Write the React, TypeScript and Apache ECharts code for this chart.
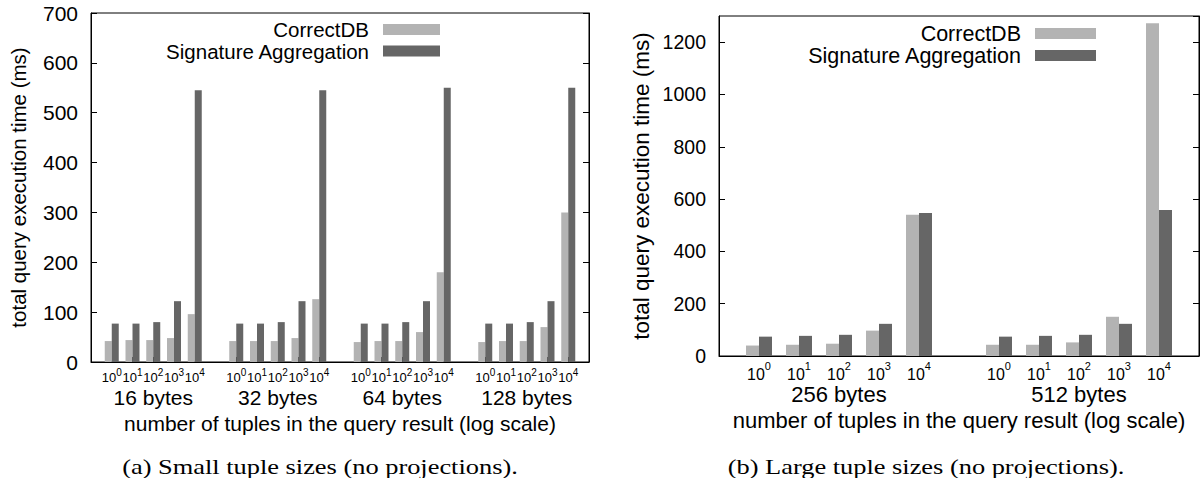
import React, { useEffect, useRef } from 'react';
import * as echarts from 'echarts';

// ---- data ----
const exponents = ['0', '1', '2', '3', '4'];
const smallGroups = ['16 bytes', '32 bytes', '64 bytes', '128 bytes'];
const largeGroups = ['256 bytes', '512 bytes'];

const correct16 = [42, 44, 44, 48, 96];
const correct32 = [42, 42, 42, 48, 126];
const correct64 = [40, 42, 42, 60, 180];
const correct128 = [40, 42, 42, 70, 300];
const sig16 = [77, 77, 80, 122, 545];
const sig32 = [77, 77, 80, 122, 545];
const sig64 = [77, 77, 80, 122, 550];
const sig128 = [77, 77, 80, 122, 550];

const correct256 = [40, 43, 47, 97, 540];
const correct512 = [43, 43, 52, 150, 1272];
const sig256 = [74, 77, 81, 123, 547];
const sig512 = [74, 77, 81, 123, 558];

const seriesNames = ['CorrectDB', 'Signature Aggregation'];
const xTitle = 'number of tuples in the query result (log scale)';
const yTitle = 'total query execution time (ms)';
const captionA = '(a) Small tuple sizes (no projections).';
const captionB = '(b) Large tuple sizes (no projections).';

// ---- helpers ----
function slotValues(groups: number[][]) {
  const out: (number | string)[] = ['-'];
  groups.forEach((g) => {
    out.push(...g, '-');
  });
  return out;
}
function slotCats(groups: string[]) {
  const out: string[] = ['gap0'];
  groups.forEach((g, gi) => {
    exponents.forEach((e) => out.push(g + '|' + e));
    out.push('gap' + (gi + 1));
  });
  return out;
}

const SANS = 'Liberation Sans';
const SERIF = 'Liberation Serif';
const LIGHT = '#b3b3b3';
const DARK = '#666666';

export default function App() {
  const ref = useRef<HTMLDivElement>(null);
  useEffect(() => {
    if (!ref.current) return;
    const chart = echarts.init(ref.current, undefined, { renderer: 'svg' });
    const smallCats = slotCats(smallGroups);
    const largeCats = slotCats(largeGroups);

    const tickAxis = (gridIndex: number, data: string[], fs: number, sfs: number, lh: number, slh: number, margin: number) => ({
      type: 'category',
      gridIndex,
      data,
      boundaryGap: false,
      axisLine: { show: true, lineStyle: { color: '#000', width: 1 } },
      axisTick: {
        show: true,
        inside: true,
        length: 5,
        interval: (_i: number, v: string) => !String(v).startsWith('gap'),
        lineStyle: { color: '#000' },
      },
      splitLine: { show: false },
      axisLabel: {
        interval: 0,
        margin,
        color: '#000',
        formatter: (v: string) => {
          if (String(v).startsWith('gap')) return '';
          const e = String(v).split('|')[1];
          return '{b|10}{s|' + e + '}';
        },
        rich: {
          b: { fontSize: fs, lineHeight: lh, verticalAlign: 'bottom', fontFamily: SANS, color: '#000' },
          s: { fontSize: sfs, lineHeight: slh, verticalAlign: 'top', fontFamily: SANS, color: '#000' },
        },
      },
    });
    const groupAxis = (gridIndex: number, data: string[], fs: number, offset: number, nameGap: number) => ({
      type: 'category',
      gridIndex,
      data,
      boundaryGap: false,
      position: 'bottom',
      offset,
      axisLine: { show: false },
      axisTick: { show: false },
      splitLine: { show: false },
      axisLabel: {
        interval: 0,
        margin: 0,
        color: '#000',
        fontSize: fs,
        fontFamily: SANS,
        formatter: (v: string) => {
          const parts = String(v).split('|');
          return parts[1] === '2' ? parts[0] : '';
        },
      },
      name: xTitle,
      nameLocation: 'middle',
      nameGap,
      nameTextStyle: { fontSize: fs, color: '#000', fontFamily: SANS },
    });
    const valueAxis = (gridIndex: number, max: number, interval: number, fs: number, nfs: number, nameGap: number) => ({
      type: 'value',
      gridIndex,
      min: 0,
      max,
      interval,
      position: 'left',
      axisLine: { show: true, lineStyle: { color: '#000' } },
      axisTick: { show: true, inside: true, length: 6, lineStyle: { color: '#000' } },
      splitLine: { show: false },
      axisLabel: {
        fontSize: fs,
        color: '#000',
        fontFamily: SANS,
        margin: 13,
        showMaxLabel: max % interval === 0,
        formatter: (v: number) => String(v),
      },
      name: yTitle,
      nameLocation: 'middle',
      nameGap,
      nameTextStyle: { fontSize: nfs, color: '#000', fontFamily: SANS },
    });
    const mirrorAxis = (gridIndex: number, max: number, interval: number) => ({
      type: 'value',
      gridIndex,
      min: 0,
      max,
      interval,
      position: 'right',
      axisLine: { show: true, lineStyle: { color: '#000' } },
      axisTick: { show: true, inside: true, length: 6, lineStyle: { color: '#000' } },
      splitLine: { show: false },
      axisLabel: { show: false },
    });
    const legendItem = (name: string, right: number, top: number, w: number, fs: number) => ({
      data: [name],
      orient: 'vertical',
      align: 'right',
      right,
      top,
      itemWidth: w,
      itemHeight: 11,
      icon: 'rect',
      padding: 0,
      selectedMode: false,
      textStyle: { fontSize: fs, color: '#000', fontFamily: SANS, padding: [0, 9, 0, 0] },
    });

    chart.setOption({
      animation: false,
      backgroundColor: '#fff',
      grid: [
        { left: 91, top: 13, width: 498, height: 349, show: true, borderColor: '#000', borderWidth: 1 },
        { left: 719, top: 16, width: 480, height: 340, show: true, borderColor: '#000', borderWidth: 1 },
      ],
      xAxis: [
        tickAxis(0, smallCats, 13, 10, 17, 7, 5),
        groupAxis(0, smallCats, 21, 25, 17),
        tickAxis(1, largeCats, 16, 11, 22, 10, 4),
        groupAxis(1, largeCats, 22, 27, 17),
      ],
      yAxis: [
        valueAxis(0, 700, 100, 21, 20.5, 62),
        mirrorAxis(0, 700, 100),
        valueAxis(1, 1300, 200, 19.5, 22.5, 66),
        mirrorAxis(1, 1300, 200),
      ],
      legend: [
        legendItem(seriesNames[0], 1202 - 440, 19, 57, 20.5),
        legendItem(seriesNames[1], 1202 - 440, 40.5, 57, 20.5),
        legendItem(seriesNames[0], 1202 - 1096, 22.5, 61, 21.5),
        legendItem(seriesNames[1], 1202 - 1096, 44.5, 61, 21.5),
      ],
      series: [
        { type: 'bar', name: seriesNames[0], xAxisIndex: 0, yAxisIndex: 0, data: slotValues([correct16, correct32, correct64, correct128]), barWidth: 7, barGap: '0%', itemStyle: { color: LIGHT } },
        { type: 'bar', name: seriesNames[1], xAxisIndex: 0, yAxisIndex: 0, data: slotValues([sig16, sig32, sig64, sig128]), barWidth: 7, barGap: '0%', itemStyle: { color: DARK } },
        { type: 'bar', name: seriesNames[0], xAxisIndex: 2, yAxisIndex: 2, data: slotValues([correct256, correct512]), barWidth: 13, barGap: '0%', itemStyle: { color: LIGHT } },
        { type: 'bar', name: seriesNames[1], xAxisIndex: 2, yAxisIndex: 2, data: slotValues([sig256, sig512]), barWidth: 13, barGap: '0%', itemStyle: { color: DARK } },
      ],
      graphic: [
        { type: 'text', x: 320, y: 466, scaleX: 1.2, style: { text: captionA, fontSize: 22, fontFamily: SERIF, fill: '#000', align: 'center', verticalAlign: 'middle' } },
        { type: 'text', x: 926, y: 466, scaleX: 1.2, style: { text: captionB, fontSize: 22, fontFamily: SERIF, fill: '#000', align: 'center', verticalAlign: 'middle' } },
      ],
    });
    return () => chart.dispose();
  }, []);
  return <div ref={ref} style={{ position: 'fixed', left: 0, top: 0, width: 1202, height: 478 }} />;
}
